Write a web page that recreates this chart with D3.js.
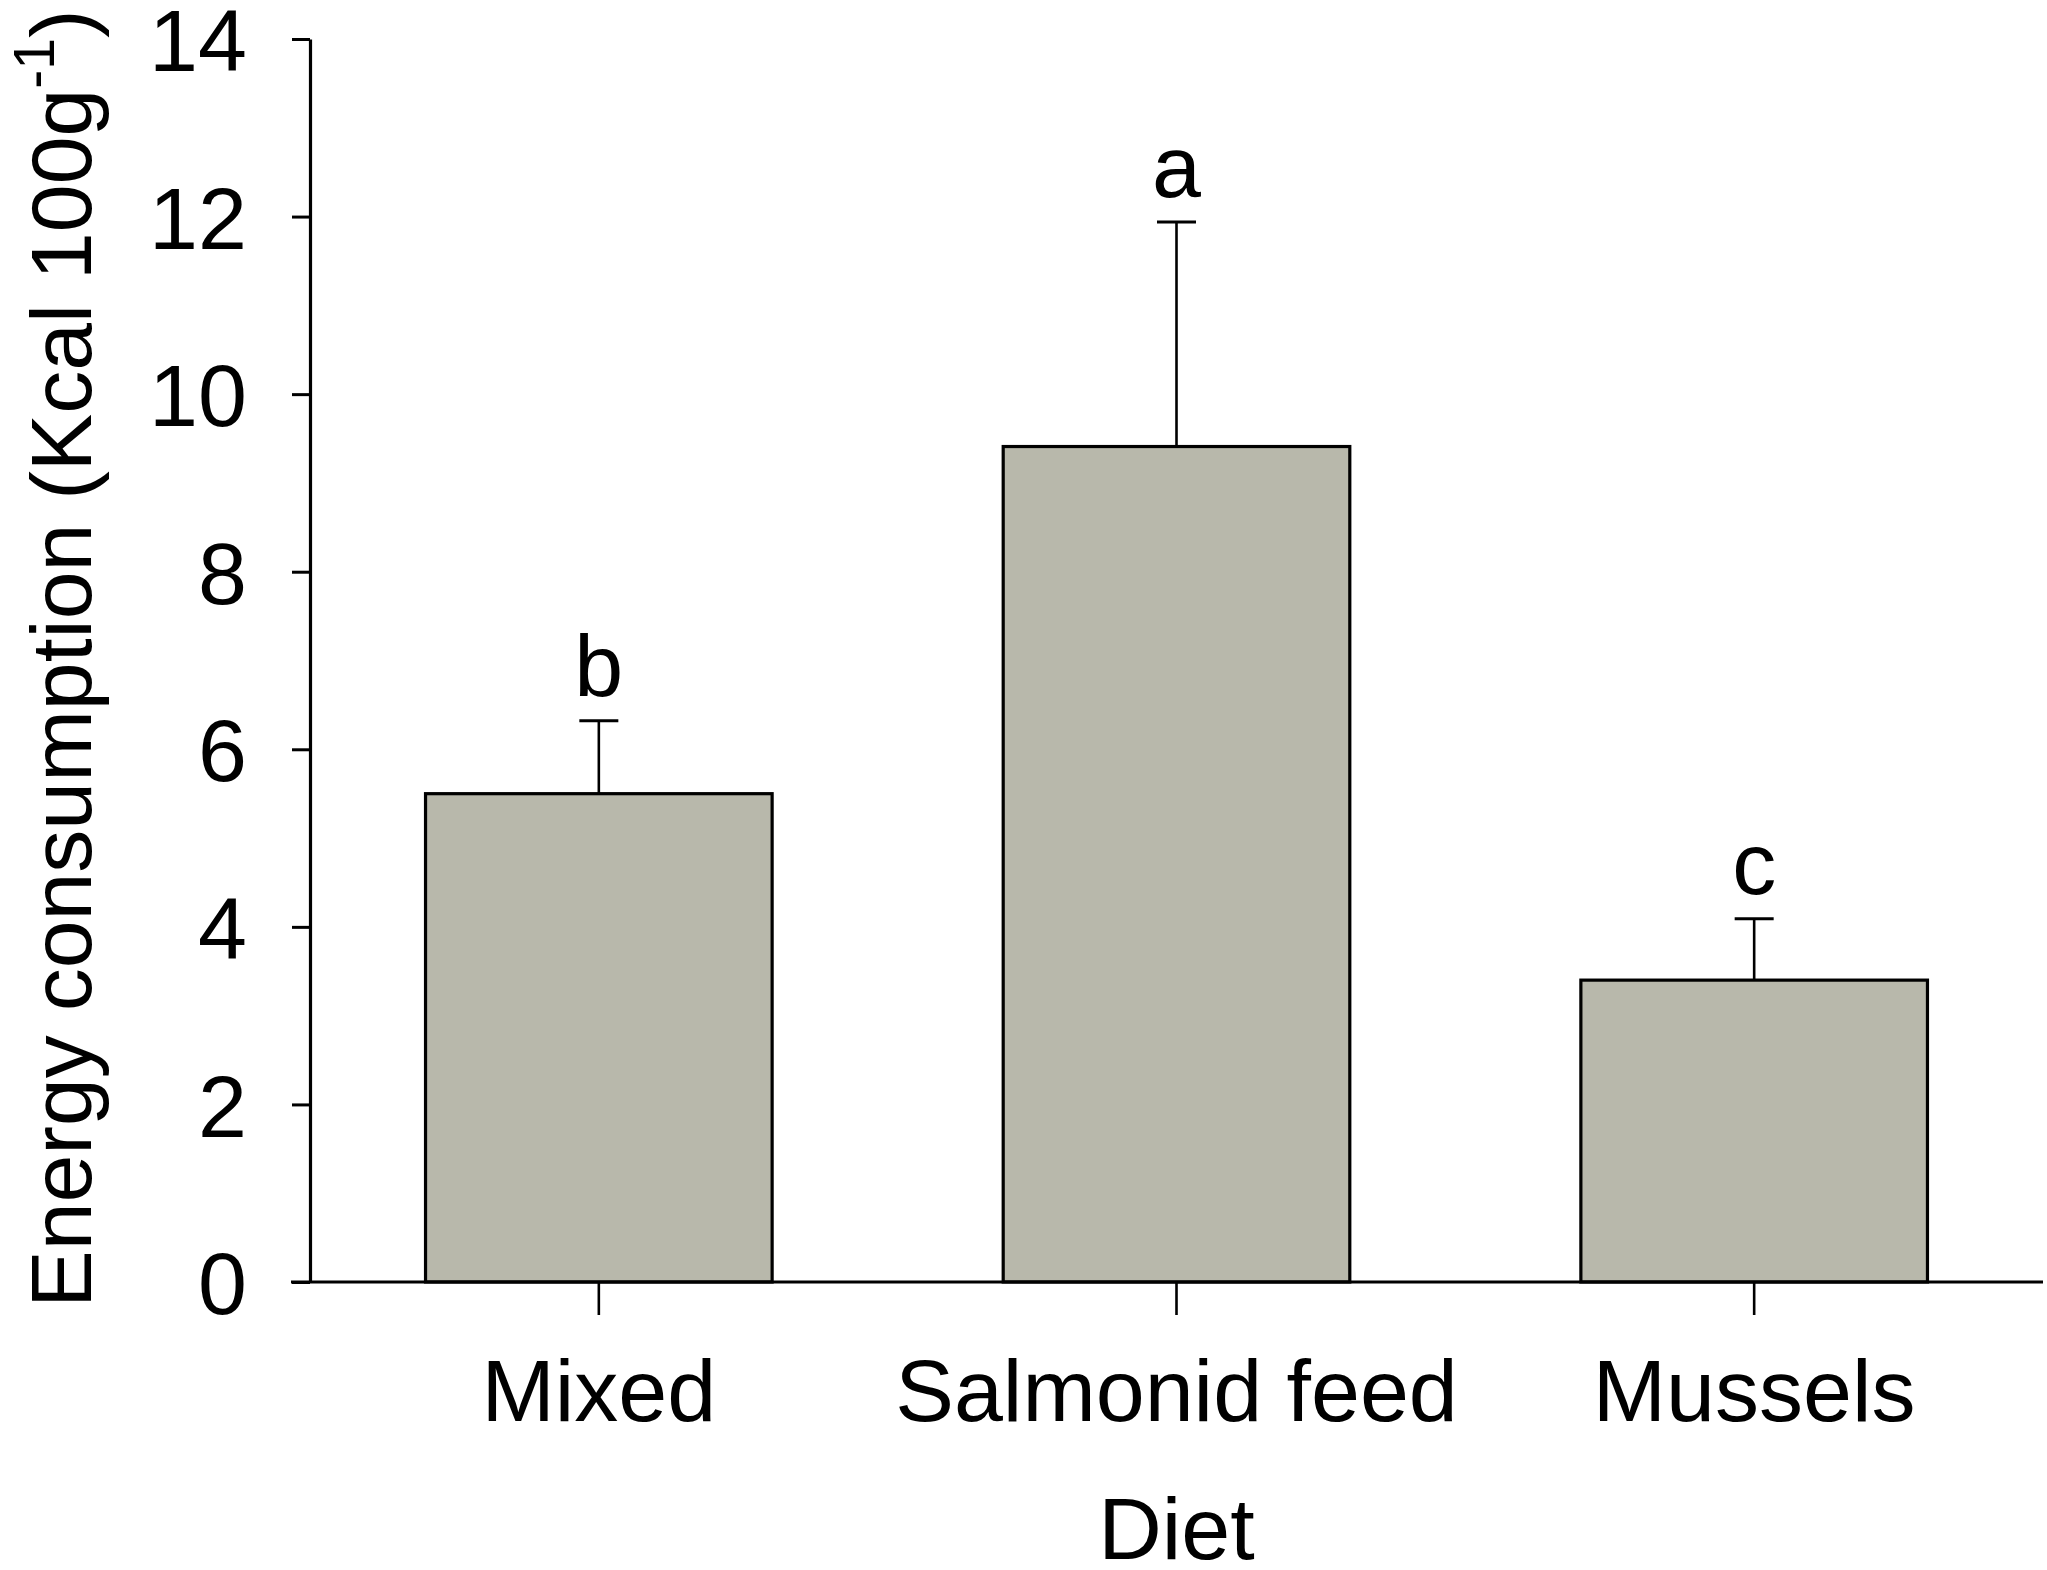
<!DOCTYPE html>
<html>
<head>
<meta charset="utf-8">
<script src="https://cdn.jsdelivr.net/npm/d3@7"></script>
<style>
  html, body { margin: 0; padding: 0; background: #fff; }
  svg { display: block; }
  text { font-family: "Liberation Sans", Arial, sans-serif; fill: #000; }
</style>
</head>
<body>
<svg id="chart" width="2047" height="1570"></svg>
<script>
// ---- data ----
const categories = ["Mixed", "Salmonid feed", "Mussels"];
const means = [5.5, 9.41, 3.4];
const errTop = [6.32, 11.94, 4.09];
const letters = ["b", "a", "c"];
const yTicks = [0, 2, 4, 6, 8, 10, 12, 14];

const W = 2047, H = 1570;
const margin = { left: 310, right: 4, top: 39, bottom: 288 };
const svg = d3.select("#chart");

const x = d3.scaleBand()
  .domain(categories)
  .range([margin.left, W - margin.right])
  .paddingInner(0.4)
  .paddingOuter(0.2);

const y = d3.scaleLinear()
  .domain([0, 14])
  .range([H - margin.bottom, margin.top]);

const fs = 88;

// bars
svg.append("g").selectAll("rect")
  .data(categories)
  .join("rect")
  .attr("x", d => x(d))
  .attr("y", (d, i) => y(means[i]))
  .attr("width", x.bandwidth())
  .attr("height", (d, i) => y(0) - y(means[i]))
  .attr("fill", "#b8b8ab")
  .attr("stroke", "#000")
  .attr("stroke-width", 3.2);

// error bars (upper only)
const capHalf = 19.5;
const eg = svg.append("g").attr("stroke", "#000").attr("stroke-width", 2.6);
categories.forEach((c, i) => {
  const cx = x(c) + x.bandwidth() / 2;
  eg.append("line")
    .attr("x1", cx).attr("x2", cx)
    .attr("y1", y(means[i])).attr("y2", y(errTop[i]));
  eg.append("line")
    .attr("x1", cx - capHalf).attr("x2", cx + capHalf)
    .attr("y1", y(errTop[i])).attr("y2", y(errTop[i]))
    .attr("stroke-width", 3);
});

// significance letters
svg.append("g").selectAll("text")
  .data(categories)
  .join("text")
  .attr("x", d => x(d) + x.bandwidth() / 2)
  .attr("y", (d, i) => y(errTop[i]) - 25)
  .attr("text-anchor", "middle")
  .attr("font-size", fs)
  .text((d, i) => letters[i]);

// y axis
const yAxis = d3.axisLeft(y)
  .tickValues(yTicks)
  .tickSizeInner(18)
  .tickSizeOuter(0)
  .tickPadding(45)
  .tickFormat(d3.format("d"));
const gy = svg.append("g")
  .attr("transform", `translate(${margin.left},0)`)
  .call(yAxis);
gy.select(".domain").attr("stroke-width", 3.2);
gy.selectAll(".tick line").attr("stroke-width", 3);
gy.selectAll(".tick text")
  .attr("font-size", fs)
  .attr("font-family", "'Liberation Sans', Arial, sans-serif")
  .attr("dy", "0.36em");

// x axis
const xAxis = d3.axisBottom(x)
  .tickSizeInner(33)
  .tickSizeOuter(0)
  .tickPadding(44);
const gx = svg.append("g")
  .attr("transform", `translate(0,${y(0)})`)
  .call(xAxis);
gx.select(".domain").remove();
gx.append("line")
  .attr("x1", margin.left - 19).attr("x2", W - margin.right)
  .attr("y1", 0).attr("y2", 0)
  .attr("stroke", "#000").attr("stroke-width", 3.2);
gx.selectAll(".tick line").attr("stroke-width", 2.6);
gx.selectAll(".tick text")
  .attr("font-size", fs)
  .attr("font-family", "'Liberation Sans', Arial, sans-serif")
  .attr("dy", "0.71em");

// x title
svg.append("text")
  .attr("x", (margin.left + W - margin.right) / 2)
  .attr("y", 1559)
  .attr("text-anchor", "middle")
  .attr("font-size", fs)
  .text("Diet");

// y title
const yt = svg.append("text")
  .attr("transform", `translate(91,${(y(0) + y(14)) / 2 - 2}) rotate(-90)`)
  .attr("text-anchor", "middle")
  .attr("font-size", 86);
yt.append("tspan").text("Energy consumption (Kcal 100g");
yt.append("tspan").attr("font-size", 57).attr("dy", -37).text("-1");
yt.append("tspan").attr("dy", 37).text(")");
</script>
</body>
</html>
